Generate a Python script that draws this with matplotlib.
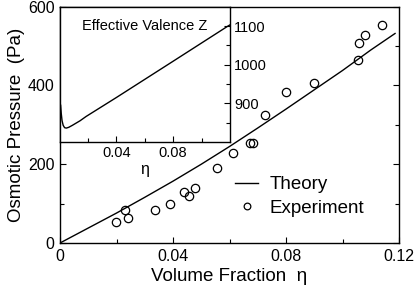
import matplotlib
matplotlib.use("Agg")
import matplotlib.pyplot as plt
from matplotlib.ticker import MultipleLocator, FixedLocator

plt.rcParams['font.family'] = ['Liberation Sans', 'DejaVu Sans']

# Theory curve (main)
theory_eta = [0.0, 0.01, 0.02, 0.03, 0.04, 0.05, 0.06, 0.07, 0.08, 0.09, 0.10, 0.11, 0.1186]
theory_p = [0, 38, 76, 116, 157, 200, 245, 292, 340, 389, 438, 490, 532]

# Experiment points
exp_eta = [0.0198, 0.0230, 0.0240, 0.0335, 0.0389, 0.0440, 0.0456, 0.0478, 0.0555, 0.0613,
           0.0673, 0.0684, 0.0726, 0.0799, 0.0899, 0.1056, 0.1058, 0.1081, 0.1140]
exp_p = [54, 84, 64, 83, 100, 130, 119, 140, 190, 229,
         253, 253, 326, 383, 407, 465, 508, 528, 554]

# Inset: effective valence Z
z_eta = [0.0008, 0.0012, 0.0018, 0.0026, 0.0036, 0.0048, 0.0065, 0.009, 0.0145, 0.0187,
         0.04, 0.08, 0.1186, 0.12]
z_val = [895, 875, 855, 843, 837, 836, 838, 843, 855, 866,
         915, 1009, 1100, 1103]

W, H = 415, 288
fig = plt.figure(figsize=(W / 100, H / 100), dpi=100)

ax = fig.add_axes([60 / W, 1 - 243 / H, (399 - 60) / W, (243 - 6.7) / H])
th, = ax.plot(theory_eta, theory_p, color='black', lw=1.0, label='Theory')
ex, = ax.plot(exp_eta, exp_p, linestyle='none', marker='o', markersize=6,
              markerfacecolor='none', markeredgecolor='black', markeredgewidth=0.9,
              label='Experiment')
ax.set_xlim(0, 0.12)
ax.set_ylim(0, 600)
ax.xaxis.set_major_locator(FixedLocator([0, 0.04, 0.08, 0.12]))
ax.xaxis.set_minor_locator(FixedLocator([0.02, 0.06, 0.10]))
ax.set_xticklabels(['0', '0.04', '0.08', '0.12'])
ax.yaxis.set_major_locator(MultipleLocator(200))
ax.yaxis.set_minor_locator(MultipleLocator(100))
ax.tick_params(which='both', direction='in', right=True, top=False, labelsize=11.5,
               width=0.8, pad=4)
ax.tick_params(which='major', length=4.5)
ax.tick_params(which='minor', length=3)
for s in ax.spines.values():
    s.set_linewidth(1.0)
ax.set_xlabel('Volume Fraction  η', fontsize=13.5, labelpad=3)
ax.set_ylabel('Osmotic Pressure  (Pa)', fontsize=13.5, labelpad=2)

leg = ax.legend(handles=[th, ex], loc='center left', bbox_to_anchor=(0.49, 0.197),
                frameon=False, fontsize=13.5, handlelength=1.2, handletextpad=0.6,
                labelspacing=0.35, borderpad=0, markerscale=0.8)

# Inset
axi = fig.add_axes([59.5 / W, 1 - 142 / H, (230 - 59.5) / W, (142 - 6.7) / H])
axi.set_facecolor('white')
axi.plot(z_eta, z_val, color='black', lw=1.0)
axi.set_xlim(0, 0.12)
axi.set_ylim(800, 1150)
axi.xaxis.set_major_locator(FixedLocator([0.04, 0.08]))
axi.xaxis.set_minor_locator(FixedLocator([0.02, 0.06, 0.10]))
axi.set_xticklabels(['0.04', '0.08'])
axi.yaxis.set_major_locator(FixedLocator([900, 1000, 1100]))
axi.yaxis.set_minor_locator(FixedLocator([850, 950, 1050]))
axi.yaxis.tick_right()
axi.tick_params(which='both', direction='in', labelsize=10.5, width=0.8, pad=3,
                left=False, right=True, top=False, bottom=True)
axi.tick_params(which='major', length=4)
axi.tick_params(which='minor', length=3)
for s in axi.spines.values():
    s.set_linewidth(1.0)
axi.set_xlabel('η', fontsize=11.5, labelpad=1)
axi.text(0.5, 0.86, 'Effective Valence Z', transform=axi.transAxes, ha='center',
         va='center', fontsize=10.5)

fig.savefig('out.png', dpi=100)
